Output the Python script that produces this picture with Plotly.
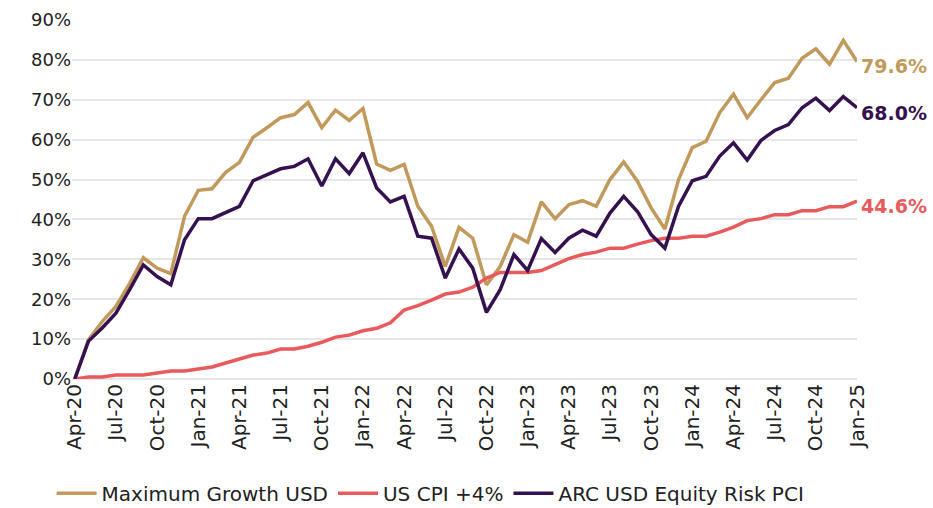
import plotly.graph_objects as go

months = ["Apr-20","May-20","Jun-20","Jul-20","Aug-20","Sep-20","Oct-20","Nov-20","Dec-20",
          "Jan-21","Feb-21","Mar-21","Apr-21","May-21","Jun-21","Jul-21","Aug-21","Sep-21","Oct-21","Nov-21","Dec-21",
          "Jan-22","Feb-22","Mar-22","Apr-22","May-22","Jun-22","Jul-22","Aug-22","Sep-22","Oct-22","Nov-22","Dec-22",
          "Jan-23","Feb-23","Mar-23","Apr-23","May-23","Jun-23","Jul-23","Aug-23","Sep-23","Oct-23","Nov-23","Dec-23",
          "Jan-24","Feb-24","Mar-24","Apr-24","May-24","Jun-24","Jul-24","Aug-24","Sep-24","Oct-24","Nov-24","Dec-24",
          "Jan-25"]

max_growth = [0, 9.8, 14.4, 18.2, 24.0, 30.4, 27.8, 26.4, 40.8, 47.3, 47.7, 51.8, 54.3, 60.6, 63.0, 65.5, 66.3, 69.3,
              63.0, 67.4, 64.8, 67.8, 53.9, 52.3, 53.8, 43.3, 38.3, 28.2, 38.0, 35.3, 23.6, 28.2, 36.2, 34.3, 44.4,
              40.2, 43.7, 44.7, 43.3, 50.0, 54.4, 49.6, 42.9, 37.6, 50.0, 58.0, 59.6, 66.8, 71.4, 65.5, 70.0, 74.3,
              75.4, 80.4, 82.8, 78.9, 84.9, 79.6]

us_cpi = [0, 0.5, 0.5, 1.0, 1.0, 1.0, 1.5, 2.0, 2.0, 2.5, 3.0, 4.0, 5.0, 6.0, 6.5, 7.5, 7.5, 8.2,
          9.2, 10.5, 11.0, 12.1, 12.7, 14.1, 17.3, 18.4, 19.8, 21.3, 21.8, 23.0, 25.3, 26.7, 26.7, 26.7, 27.2,
          28.8, 30.2, 31.2, 31.8, 32.8, 32.8, 33.8, 34.7, 35.3, 35.3, 35.8, 35.8, 36.8, 38.1, 39.7, 40.2, 41.2,
          41.2, 42.2, 42.2, 43.2, 43.2, 44.6]

arc_equity = [0, 9.5, 12.8, 16.5, 22.4, 28.6, 25.7, 23.6, 34.9, 40.2, 40.2, 41.7, 43.3, 49.7, 51.3, 52.7, 53.3, 55.2,
              48.4, 55.2, 51.5, 56.7, 47.9, 44.4, 45.8, 35.8, 35.3, 25.3, 32.6, 27.8, 16.7, 22.4, 31.2, 27.2, 35.2,
              31.7, 35.3, 37.3, 35.8, 41.6, 45.8, 42.0, 36.2, 32.8, 43.3, 49.7, 50.8, 55.9, 59.2, 54.9, 59.8, 62.3,
              63.8, 68.0, 70.4, 67.3, 70.8, 68.0]

tick_labels = months[::3]
y_ticks = [0, 10, 20, 30, 40, 50, 60, 70, 80, 90]

series = [
    ("Maximum Growth USD", max_growth, "#C19A5B"),
    ("US CPI +4%", us_cpi, "#E85A5C"),
    ("ARC USD Equity Risk PCI", arc_equity, "#35114F"),
]

FONT = "DejaVu Sans, Noto Sans, sans-serif"

fig = go.Figure()
for name, vals, col in series:
    fig.add_trace(go.Scatter(x=months, y=vals, name=name, mode="lines",
                             line=dict(color=col, width=3.5)))

for name, vals, col in series:
    fig.add_annotation(x=months[-1], y=vals[-1], text=f"<b>{vals[-1]:.1f}%</b>",
                       showarrow=False, xanchor="left", yanchor="middle", xshift=2, yshift=-5,
                       font=dict(color=col, size=19, family=FONT))

fig.update_layout(
    width=933, height=508,
    margin=dict(l=72, r=76, t=20, b=129, autoexpand=False),
    plot_bgcolor="white", paper_bgcolor="white",
    font=dict(family=FONT, color="#222222", size=18),
    showlegend=True,
    legend=dict(orientation="h", x=-0.026, xanchor="left", y=-0.318, yanchor="middle",
                font=dict(size=20, color="#222222"), itemwidth=40, tracegroupgap=0),
)
fig.update_xaxes(type="category", tickmode="array", tickvals=tick_labels, ticktext=tick_labels,
                 tickangle=-90, range=[-0.2, len(months) - 1], showgrid=False, showline=False,
                 ticks="", automargin=False, tickfont=dict(size=20, color="#222222"))
fig.update_yaxes(range=[0, 90], tickvals=y_ticks, ticktext=[f"{v}%" for v in y_ticks],
                 showgrid=True, gridcolor="#E6E6E6", gridwidth=2, zeroline=True,
                 zerolinecolor="#E6E6E6", zerolinewidth=2, ticks="", automargin=False,
                 tickfont=dict(size=18, color="#222222"))

fig.write_html("out.html", config={"displayModeBar": False},
               post_script="document.body.style.margin='0px';document.body.style.overflow='hidden';")
